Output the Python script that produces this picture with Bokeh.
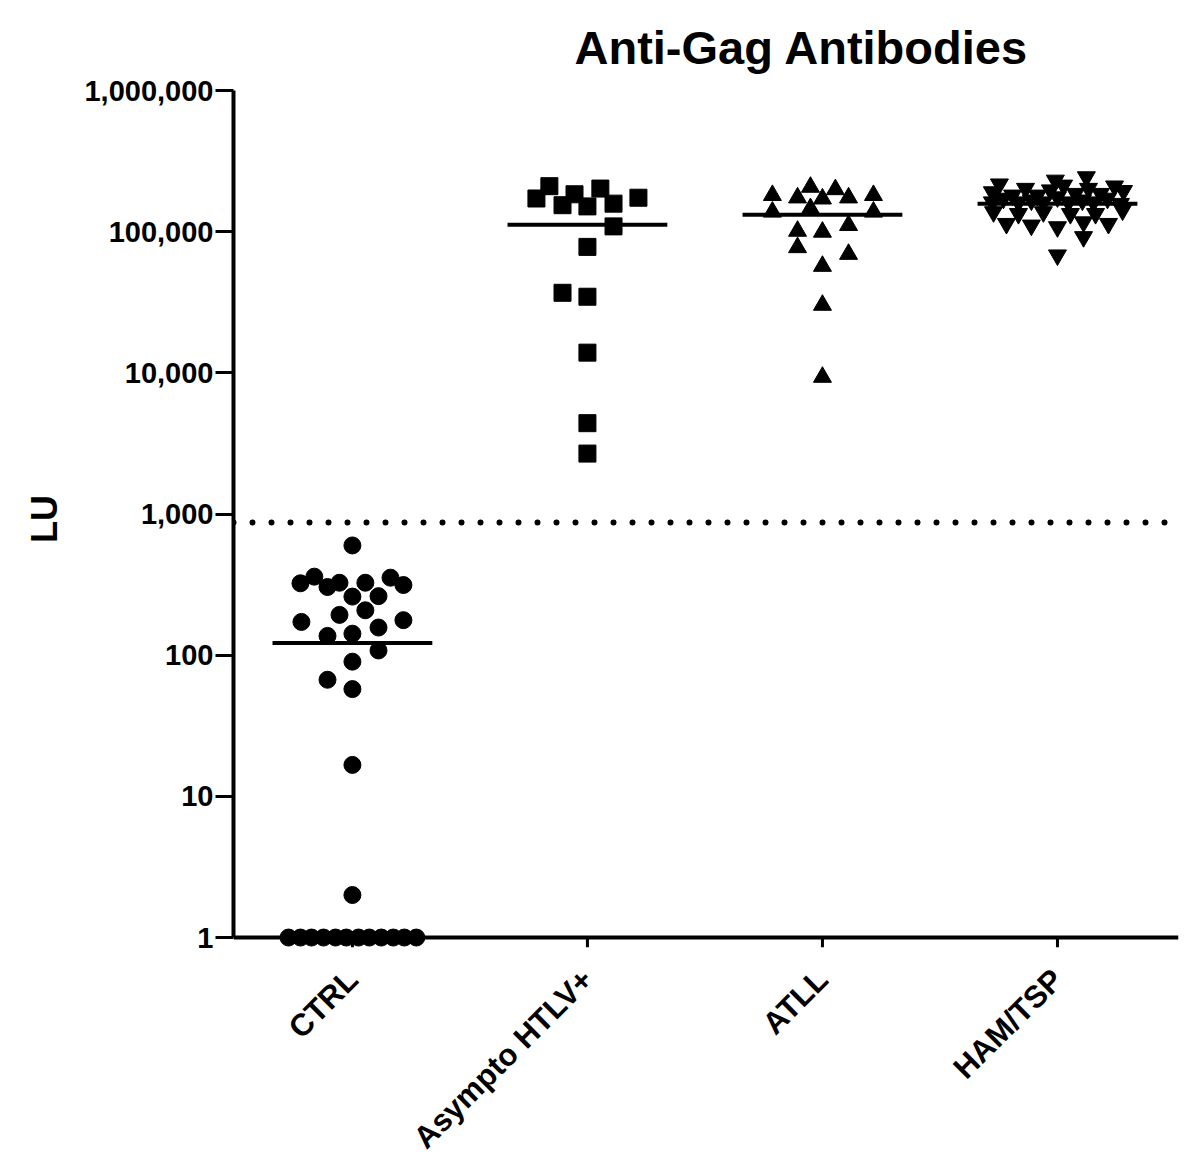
import math
from bokeh.plotting import figure
from bokeh.models import Range1d, FixedTicker, NumeralTickFormatter, Span, ColumnDataSource
from bokeh.embed import file_html
from bokeh.resources import INLINE

# ---------------- data ----------------
categories = ["CTRL", "Asympto HTLV+", "ATLL", "HAM/TSP"]

ctrl_values = [599, 323, 360, 304, 326, 326, 354, 314, 260, 262, 208, 193, 172, 177,
               157, 137, 142, 108, 90, 67, 57.5, 16.7, 2,
               1, 1, 1, 1, 1, 1, 1, 1, 1, 1, 1, 1]
ctrl_jitter = [0, -0.221, -0.162, -0.106, -0.055, 0.055, 0.162, 0.217, 0, 0.111, 0.055, -0.055, -0.217, 0.217,
               0.111, -0.106, 0, 0.111, 0, -0.106, 0, 0, 0,
               -0.272, -0.221, -0.174, -0.123, -0.072, -0.026, 0.026, 0.072, 0.123, 0.174, 0.221, 0.272]

asym_values = [171800, 210000, 154000, 184000, 151000, 202000, 158000, 174000,
               109000, 78000, 36900, 34600, 13900, 4400, 2680]
asym_jitter = [-0.217, -0.162, -0.106, -0.055, 0, 0.055, 0.111, 0.217,
               0.111, 0, -0.106, 0, 0, 0, 0]

atll_values = [181000, 138000, 174000, 207000, 171000, 199000, 174000, 181000, 138000,
               146000, 101000, 99500, 111000, 77300, 69300, 57000, 30200, 9330]
atll_jitter = [-0.213, -0.213, -0.106, -0.051, 0, 0.055, 0.111, 0.217, 0.217,
               -0.051, -0.106, 0, 0.111, -0.106, 0.111, 0, 0, 0]

ham_values = [217000, 202000, 231000, 244000, 210000,
              191000, 181000, 181000, 197000, 213000, 186000, 202000, 186000, 195000,
              162000, 172000, 162000, 167000, 162000, 176000, 162000, 167000, 162000, 172000, 158000,
              138000, 134000, 138000, 134000, 134000, 142000,
              114000, 111000, 108000, 117000, 114000,
              91900, 68200]
ham_jitter = [-0.247, -0.136, -0.009, 0.123, 0.243,
              -0.277, -0.191, -0.085, -0.030, 0.026, 0.077, 0.132, 0.183, 0.281,
              -0.277, -0.230, -0.166, -0.111, -0.060, 0, 0.047, 0.106, 0.153, 0.213, 0.268,
              -0.272, -0.166, -0.060, 0.055, 0.162, 0.277,
              -0.217, -0.111, 0, 0.111, 0.217,
              0.111, 0]

medians = [122, 112000, 132000, 158000]
cutoff = 871
y_ticks = [1, 10, 100, 1000, 10000, 100000, 1000000]

# ---------------- figure ----------------
FONT = "Liberation Sans"
Y_LOW = 0.85   # a little room below LU = 1 so the markers on the baseline are not cut
p = figure(width=1193, height=1170, output_backend="svg", toolbar_location=None,
           y_axis_type="log",
           x_range=Range1d(0.494, 4.515), y_range=Range1d(Y_LOW, 1e6),
           min_border_left=233, min_border_right=15, min_border_top=90, min_border_bottom=221)
p.outline_line_color = None
p.grid.visible = False
p.background_fill_color = "white"
p.border_fill_color = "white"

p.title.text = "Anti-Gag Antibodies"
p.title.text_font = FONT
p.title.text_font_size = "47px"
p.title.text_font_style = "bold"
p.title.text_color = "black"
p.title.align = "left"
p.title.offset = 341
p.title.standoff = 34

# y axis
ya = p.yaxis[0]
ya.ticker = FixedTicker(ticks=y_ticks, minor_ticks=[])
ya.formatter = NumeralTickFormatter(format="0,0")
ya.bounds = (1, 1e6)
ya.major_label_text_font = FONT
ya.major_label_text_font_style = "bold"
ya.major_label_text_font_size = "29px"
ya.major_label_text_color = "black"
ya.major_tick_out = 18
ya.major_tick_in = 0
ya.major_tick_line_width = 3
ya.axis_line_width = 4
ya.major_label_standoff = 2
ya.axis_label = "LU"
ya.axis_label_text_font = FONT
ya.axis_label_text_font_style = "bold"
ya.axis_label_text_font_size = "36px"
ya.axis_label_text_color = "black"
ya.axis_label_standoff = 16

# x axis: labels from the axis, line and ticks drawn at LU = 1
xa = p.xaxis[0]
xa.ticker = FixedTicker(ticks=[1, 2, 3, 4], minor_ticks=[])
xa.major_label_overrides = {i + 1: c for i, c in enumerate(categories)}
xa.major_label_orientation = math.pi / 4
xa.major_label_text_font = FONT
xa.major_label_text_font_style = "bold"
xa.major_label_text_font_size = "31px"
xa.major_label_text_color = "black"
xa.major_tick_out = 10
xa.major_tick_in = 0
xa.major_tick_line_color = None
xa.axis_line_color = None
xa.major_label_standoff = 17

p.add_layout(Span(location=1, dimension="width", line_color="black", line_width=4))
p.segment(x0=[1, 2, 3, 4], y0=[1] * 4, x1=[1, 2, 3, 4], y1=[Y_LOW] * 4,
          line_color="black", line_width=3)

# cutoff dotted line
p.add_layout(Span(location=cutoff, dimension="width", line_color="black",
                  line_width=6, line_dash="0 19", line_cap="round"))

def xs(idx, jit):
    return [idx + j for j in jit]

p.scatter(xs(1, ctrl_jitter), ctrl_values, marker="circle", size=17, color="black")
p.scatter(xs(2, asym_jitter), asym_values, marker="square", size=17, color="black")
p.scatter(xs(3, atll_jitter), atll_values, marker="triangle", size=18, color="black")
p.scatter(xs(4, ham_jitter), ham_values, marker="inverted_triangle", size=18, color="black")

half = 0.34
med_src = ColumnDataSource(dict(x0=[i + 1 - half for i in range(4)], x1=[i + 1 + half for i in range(4)],
                                y=medians))
p.segment(x0="x0", y0="y", x1="x1", y1="y", source=med_src, line_color="black", line_width=4)

open("out.html", "w").write(file_html(p, INLINE))
